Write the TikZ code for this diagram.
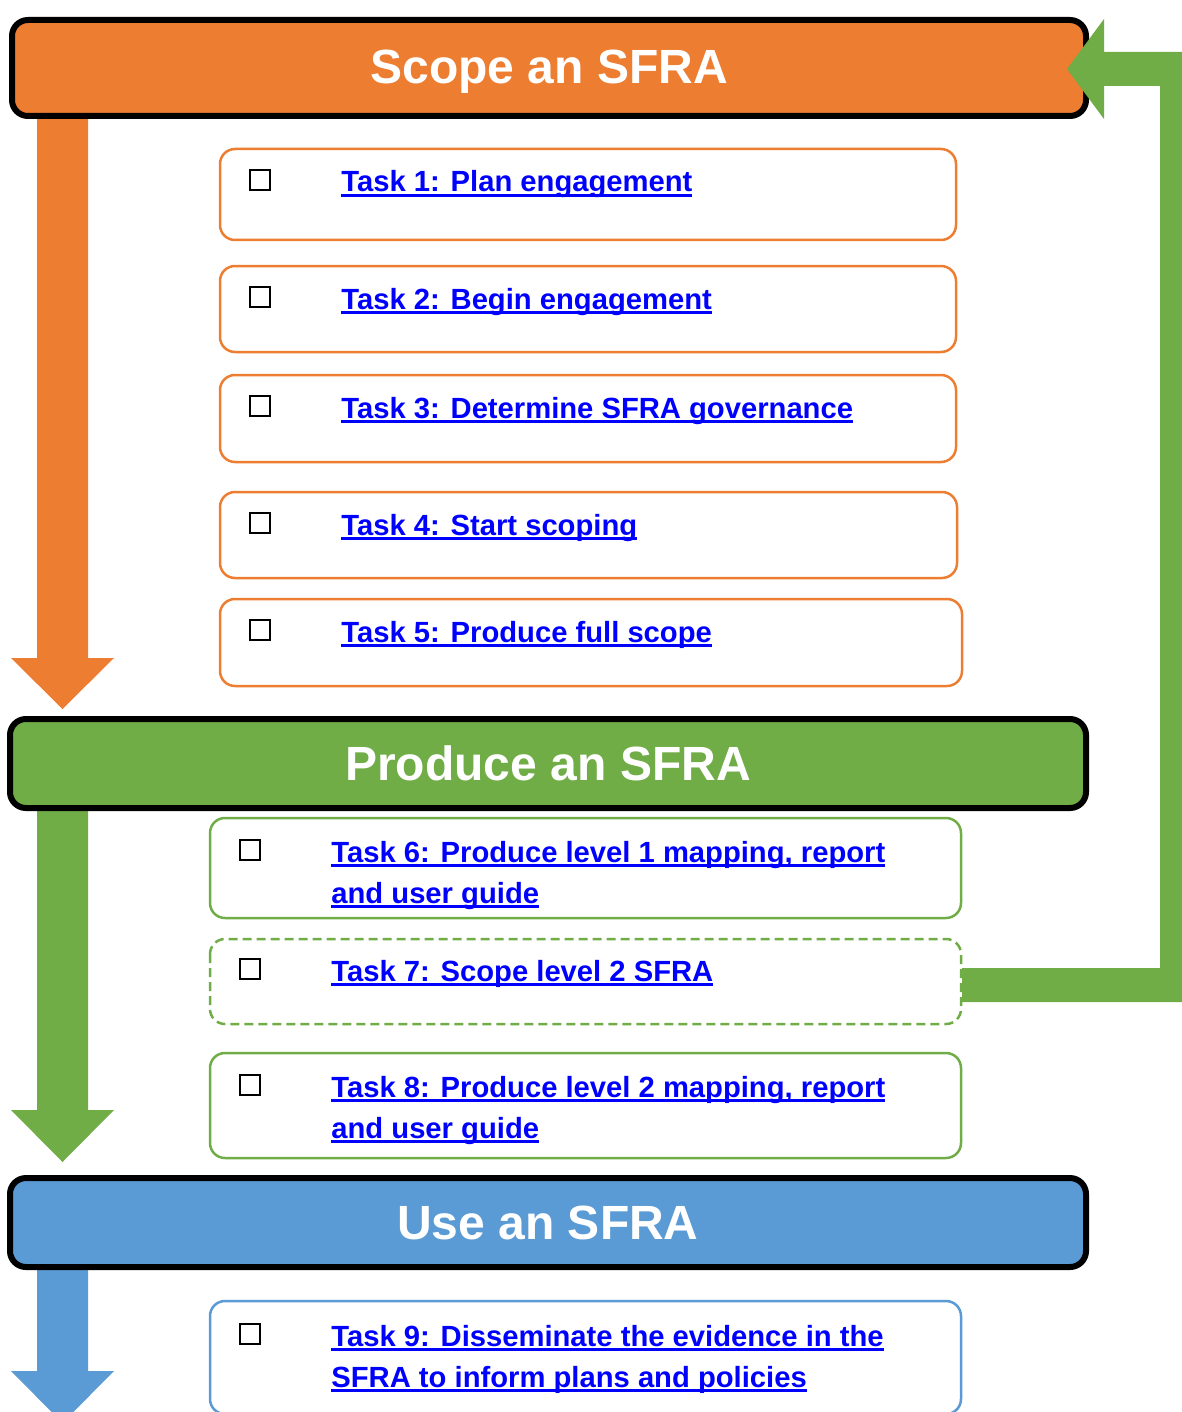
\documentclass[tikz,border=0pt]{standalone}
\usepackage{fontspec}
\setmainfont{Liberation Sans}
\definecolor{sorange}{HTML}{ED7D31}
\definecolor{sgreen}{HTML}{70AD47}
\definecolor{sblue}{HTML}{5B9BD5}
\definecolor{linkblue}{HTML}{0000FF}
\newcommand\ulk[1]{\setbox0=\hbox{#1}\rlap{\rule[-2.6pt]{\wd0}{1.4pt}}\box0}
\tikzset{
  header/.style={draw=black, line width=3pt, rounded corners=8pt, text=white,
    font=\bfseries\fontsize{24}{28}\selectfont, inner sep=0pt},
  taskbox/.style={line width=1.25pt, rounded corners=7.5pt},
  chk/.style={draw=black, line width=1.2pt, minimum size=10pt, inner sep=0pt},
  tasktext/.style={text=linkblue, font=\bfseries\fontsize{14.6}{20.5}\selectfont,
    inner sep=0pt, align=left, anchor=base west},
}
\begin{document}
\begin{tikzpicture}[x=0.5pt,y=-0.5pt]
\useasboundingbox (0,0) rectangle (1182,1412);
\clip (0,0) rectangle (1182,1412);

% down arrows
\fill[sorange] (37,110) -- (88,110) -- (88,658) -- (114,658) -- (62.5,709) -- (11,658) -- (37,658) -- cycle;
\fill[sgreen] (37,805) -- (88,805) -- (88,1110) -- (114,1110) -- (62.5,1162) -- (11,1110) -- (37,1110) -- cycle;
\fill[sblue] (37,1264) -- (88,1264) -- (88,1371) -- (114,1371) -- (62.5,1423) -- (11,1371) -- (37,1371) -- cycle;

% headers
\node[header, fill=sorange, minimum width=537pt, minimum height=48pt, text depth=1pt] (scope) at (549,68) {Scope an SFRA};
\node[header, fill=sgreen, minimum width=538pt, minimum height=44.5pt] (produce) at (548,763.5) {Produce an SFRA};
\node[header, fill=sblue, minimum width=538pt, minimum height=44.5pt] (use) at (548,1222.5) {Use an SFRA};

% task boxes
\draw[taskbox, draw=sorange] (220,149) rectangle (956,240);
\draw[taskbox, draw=sorange] (220,266) rectangle (956,352);
\draw[taskbox, draw=sorange] (220,375) rectangle (956,462);
\draw[taskbox, draw=sorange] (220,492) rectangle (957,578);
\draw[taskbox, draw=sorange] (220,599) rectangle (962,686);
\draw[taskbox, draw=sgreen] (210,818) rectangle (961,918);
\draw[taskbox, draw=sgreen, dash pattern=on 4.5pt off 2.5pt] (210,939) rectangle (961,1024);
\draw[taskbox, draw=sgreen] (210,1053) rectangle (961,1158);
\draw[taskbox, draw=sblue] (210,1301) rectangle (961,1414);

% checkboxes
\node[chk] (c1) at (260,180) {};
\node[chk] (c2) at (260,297) {};
\node[chk] (c3) at (260,406) {};
\node[chk] (c4) at (260,523) {};
\node[chk] (c5) at (260,630) {};
\node[chk] (c6) at (250,850) {};
\node[chk] (c7) at (250,969) {};
\node[chk] (c8) at (250,1085) {};
\node[chk] (c9) at (250,1334) {};

% task texts
\node[tasktext] (t1) at (341,192) {\ulk{Task 1: Plan engagement}};
\node[tasktext] (t2) at (341,309) {\ulk{Task 2: Begin engagement}};
\node[tasktext] (t3) at (341,418) {\ulk{Task 3: Determine SFRA governance}};
\node[tasktext] (t4) at (341,535) {\ulk{Task 4: Start scoping}};
\node[tasktext] (t5) at (341,642) {\ulk{Task 5: Produce full scope}};
\node[tasktext] (t6) at (331,903) {\ulk{Task 6: Produce level 1 mapping, report}\\\ulk{and user guide}};
\node[tasktext] (t7) at (331,981) {\ulk{Task 7: Scope level 2 SFRA}};
\node[tasktext] (t8) at (331,1138) {\ulk{Task 8: Produce level 2 mapping, report}\\\ulk{and user guide}};
\node[tasktext] (t9) at (331,1387) {\ulk{Task 9: Disseminate the evidence in the}\\\ulk{SFRA to inform plans and policies}};

% feedback arrow from Task 7 back to Scope
\fill[sgreen] (962,968) -- (1160,968) -- (1160,86) -- (1104,86) -- (1104,119) -- (1067,69)
  -- (1104,19) -- (1104,52) -- (1182,52) -- (1182,1002) -- (962,1002) -- cycle;
\end{tikzpicture}
\end{document}
